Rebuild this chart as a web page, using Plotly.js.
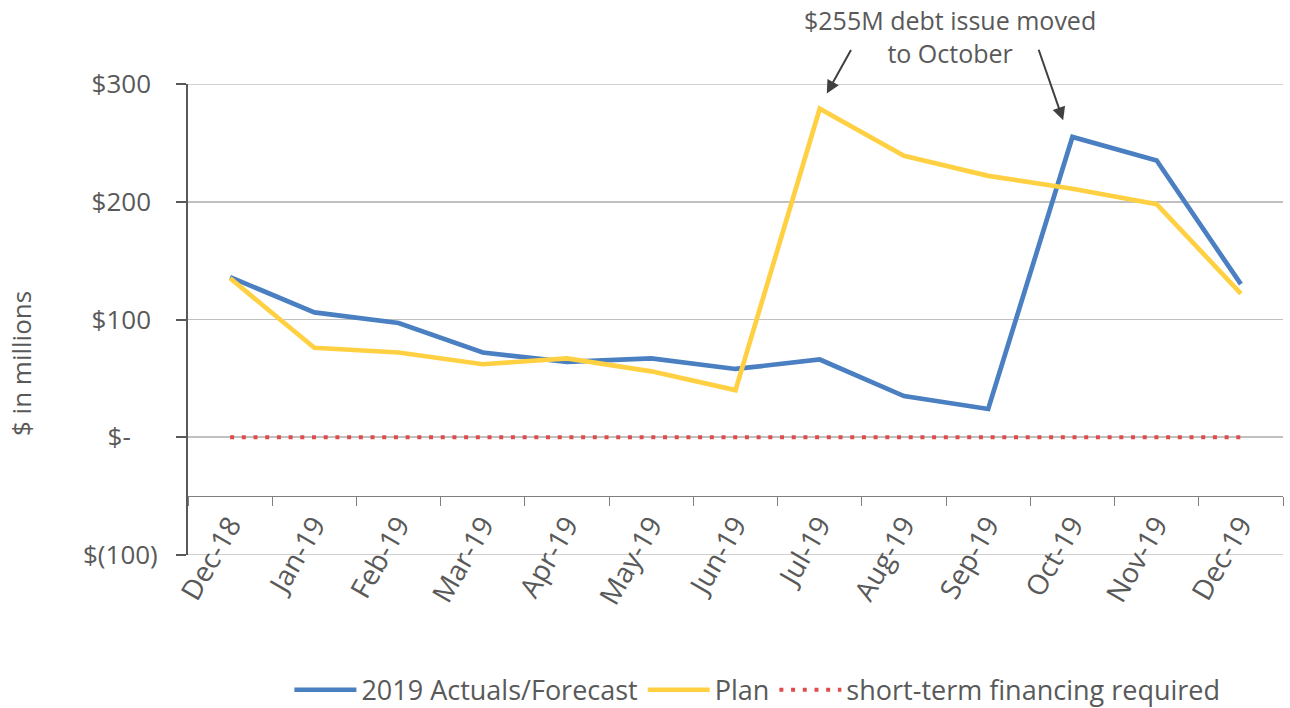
<!DOCTYPE html>
<html>
<head>
<meta charset="utf-8">
<script src="https://cdn.plot.ly/plotly-3.0.1.min.js"></script>
<style>html,body{margin:0;padding:0;background:#fff;}#chart{width:1290px;height:708px;}</style>
</head>
<body>
<div id="chart"></div>
<script>
const months = ["Dec-18","Jan-19","Feb-19","Mar-19","Apr-19","May-19","Jun-19","Jul-19","Aug-19","Sep-19","Oct-19","Nov-19","Dec-19"];
const actuals = [136, 106, 97, 72, 64, 67, 58, 66, 35, 24, 255, 235, 130];
const plan = [135, 76, 72, 62, 67, 56, 40, 279, 239, 222, 211, 198, 122];
const shortTerm = [0, 0, 0, 0, 0, 0, 0, 0, 0, 0, 0, 0, 0];
const yTickVals = [-100, 0, 100, 200, 300];
const yTickText = ["$(100)", "$-\u00a0\u00a0\u00a0\u00a0", "$100\u00a0", "$200\u00a0", "$300\u00a0"];
const yRange = [-100, 300];

const FONT = '"Open Sans", "Noto Sans", sans-serif';
const GREY = '#595959';

const traces = [
  {x: months, y: actuals, name: '2019 Actuals/Forecast', type: 'scatter', mode: 'lines',
   line: {color: '#4A7FC1', width: 4.7}},
  {x: months, y: plan, name: 'Plan', type: 'scatter', mode: 'lines',
   line: {color: '#FFD042', width: 4.7}},
  {x: months, y: shortTerm, name: 'short-term financing required', type: 'scatter', mode: 'lines',
   line: {color: '#E04B4B', width: 4, dash: '4px,7.7px'}}
];

const edgeGrid = [yRange[0], yRange[1]].map(v => ({
  type: 'line', xref: 'paper', yref: 'y', x0: 0, x1: 1, y0: v, y1: v,
  line: {color: '#C0C0C0', width: 1.6}, layer: 'below'
}));

const layout = {
  width: 1290, height: 708,
  margin: {l: 188, r: 7, t: 84, b: 153, autoexpand: false},
  paper_bgcolor: '#fff', plot_bgcolor: '#fff',
  font: {family: FONT, size: 24, color: GREY},
  showlegend: true,
  legend: {orientation: 'h', x: 0.52, xanchor: 'center', y: -0.287, yanchor: 'middle',
           font: {size: 27, color: GREY}, tracegroupgap: 0, itemwidth: 62},
  xaxis: {
    type: 'category', range: [-0.5, 12.5], anchor: 'free', position: 0.125,
    showline: true, linecolor: '#7f7f7f', linewidth: 1.3,
    ticks: 'outside', tickson: 'boundaries', ticklen: 9, tickcolor: '#7f7f7f', tickwidth: 1,
    tickangle: -60, showgrid: false, zeroline: false, automargin: false,
    tickfont: {size: 28, color: GREY}, fixedrange: true
  },
  yaxis: {
    range: yRange, tickvals: yTickVals, ticktext: yTickText,
    showline: true, linecolor: GREY, linewidth: 2, automargin: false,
    ticks: 'outside', ticklen: 10, tickcolor: GREY, tickwidth: 2,
    showgrid: true, gridcolor: '#C0C0C0', gridwidth: 1.6, zeroline: false,
    tickfont: {size: 26, color: GREY}, ticklabelstandoff: 13, fixedrange: true
  },
  shapes: edgeGrid,
  annotations: [
    {xref: 'paper', yref: 'paper', x: -0.1525, y: 0.4055, text: '$ in millions', textangle: -90,
     showarrow: false, xanchor: 'center', yanchor: 'middle', font: {size: 26, color: GREY}},
    {xref: 'paper', yref: 'paper', x: 0.696, y: 1.0998, text: '$255M debt issue moved<br>to October',
     showarrow: false, xanchor: 'center', yanchor: 'middle', align: 'center', font: {size: 25, color: GREY}},
    {xref: 'x', yref: 'y', x: 7.084, y: 291.9, text: '', showarrow: true, axref: 'pixel', ayref: 'pixel',
     ax: 25, ay: -45, arrowhead: 2, arrowsize: 1.3, arrowwidth: 2, arrowcolor: '#404040', standoff: 0},
    {xref: 'x', yref: 'y', x: 9.89, y: 269.2, text: '', showarrow: true, axref: 'pixel', ayref: 'pixel',
     ax: -25, ay: -72, arrowhead: 2, arrowsize: 1.3, arrowwidth: 2, arrowcolor: '#404040', standoff: 0}
  ]
};

Plotly.newPlot('chart', traces, layout, {displayModeBar: false, staticPlot: true});
</script>
</body>
</html>
